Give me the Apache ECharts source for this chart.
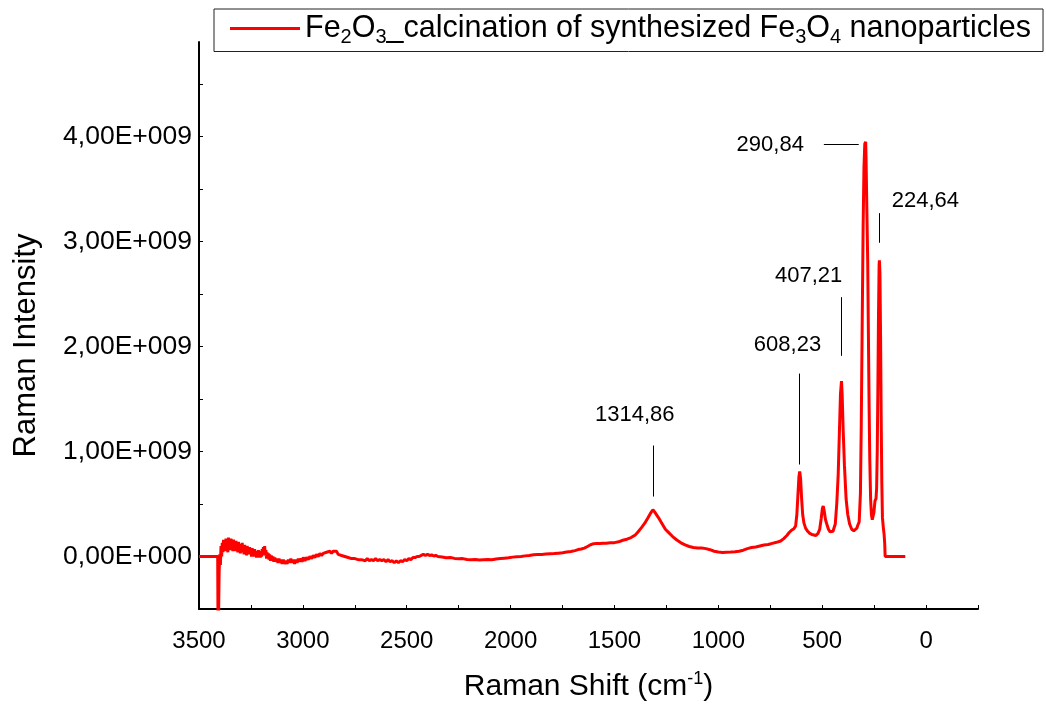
<!DOCTYPE html>
<html>
<head>
<meta charset="utf-8">
<script src="https://cdn.jsdelivr.net/npm/echarts@6/dist/echarts.min.js"></script>
<style>
  html, body { margin: 0; padding: 0; background: #ffffff; overflow: hidden; }
  #chart { width: 1046px; height: 707px; }
</style>
</head>
<body>
<div id="chart"></div>
<script>
// Raman spectrum of Fe2O3 obtained by calcination of Fe3O4 nanoparticles.
// Each pair: [Raman shift in cm-1, intensity in units of 1E+009].
const spectrumE9 = [
  [3500, 0.00], [3460, 0.00], [3410, 0.00], [3408, -0.90], [3405, -0.90], [3403, -0.14],
  [3400, 0.02], [3397, -0.08], [3394, 0.10], [3391, 0.00], [3388, 0.13], [3385, 0.04],
  [3382, 0.16], [3379, 0.06], [3376, 0.15], [3373, 0.05], [3370, 0.17], [3367, 0.07],
  [3364, 0.14], [3361, 0.04], [3358, 0.18], [3355, 0.08], [3352, 0.15], [3349, 0.06],
  [3346, 0.17], [3343, 0.09], [3340, 0.14], [3337, 0.05], [3334, 0.16], [3331, 0.07],
  [3328, 0.13], [3325, 0.05], [3322, 0.15], [3319, 0.06], [3316, 0.12], [3313, 0.04],
  [3310, 0.14], [3307, 0.05], [3304, 0.11], [3301, 0.03], [3298, 0.12], [3295, 0.05],
  [3292, 0.13], [3289, 0.04], [3286, 0.10], [3283, 0.02], [3280, 0.11], [3277, 0.04],
  [3274, 0.09], [3271, 0.01], [3268, 0.10], [3265, 0.03], [3262, 0.08], [3259, 0.02],
  [3256, 0.09], [3253, 0.03], [3250, 0.07], [3247, 0.00], [3244, 0.08], [3241, 0.02],
  [3238, 0.06], [3235, 0.00], [3232, 0.07], [3229, 0.01], [3226, 0.05], [3223, -0.01],
  [3220, 0.05], [3217, -0.01], [3214, 0.06], [3211, 0.00], [3208, 0.05], [3205, -0.01],
  [3202, 0.04], [3199, 0.00], [3196, 0.07], [3193, 0.01], [3190, 0.09], [3187, 0.02],
  [3184, 0.10], [3181, 0.01], [3178, 0.06], [3175, -0.02], [3172, 0.04], [3169, -0.02],
  [3166, 0.03], [3163, -0.03], [3160, 0.02], [3156, -0.04], [3152, 0.01], [3148, -0.04],
  [3144, 0.00], [3140, -0.05], [3135, -0.01], [3130, -0.05], [3125, -0.02], [3120, -0.06],
  [3115, -0.02], [3110, -0.06], [3105, -0.03], [3100, -0.07], [3094, -0.03], [3088, -0.07],
  [3082, -0.04], [3076, -0.07], [3070, -0.03], [3064, -0.06], [3058, -0.02], [3052, -0.06],
  [3046, -0.03], [3040, -0.07], [3034, -0.03], [3028, -0.06], [3022, -0.02], [3016, -0.05],
  [3010, -0.02], [3004, -0.05], [2998, -0.01], [2990, -0.04], [2982, -0.01], [2974, -0.03],
  [2966, 0.00], [2958, -0.02], [2950, 0.01], [2942, -0.01], [2934, 0.02], [2926, 0.00],
  [2918, 0.03], [2910, 0.01], [2902, 0.03], [2894, 0.02], [2886, 0.04], [2878, 0.03],
  [2870, 0.05], [2862, 0.03], [2854, 0.05], [2846, 0.04], [2838, 0.05], [2830, 0.02],
  [2822, 0.03], [2814, 0.01], [2806, 0.02], [2798, 0.00], [2790, 0.01], [2782, -0.01],
  [2774, 0.00], [2766, -0.02], [2758, -0.01], [2750, -0.02], [2742, -0.01], [2734, -0.03],
  [2726, -0.02], [2718, -0.03], [2710, -0.02], [2700, -0.04], [2690, -0.02], [2680, -0.04],
  [2670, -0.03], [2660, -0.04], [2650, -0.02], [2640, -0.04], [2630, -0.03], [2620, -0.04],
  [2610, -0.03], [2600, -0.05], [2590, -0.03], [2580, -0.05], [2570, -0.04], [2560, -0.06],
  [2550, -0.04], [2540, -0.06], [2530, -0.04], [2520, -0.05], [2510, -0.03], [2500, -0.04],
  [2490, -0.02], [2480, -0.03], [2470, -0.01], [2460, -0.01], [2450, 0.00], [2440, 0.00],
  [2430, 0.01], [2420, 0.02], [2410, 0.01], [2400, 0.02], [2390, 0.01], [2380, 0.015],
  [2370, 0.005], [2360, 0.01], [2350, 0.00], [2330, -0.005], [2310, -0.012], [2290, -0.01],
  [2270, -0.018], [2250, -0.022], [2230, -0.02], [2210, -0.028], [2190, -0.031], [2170, -0.028],
  [2150, -0.033], [2130, -0.03], [2110, -0.028], [2090, -0.03], [2070, -0.024], [2050, -0.02],
  [2030, -0.016], [2010, -0.012], [1990, -0.006], [1970, -0.002], [1950, 0.00], [1930, 0.006],
  [1910, 0.01], [1890, 0.016], [1870, 0.019], [1850, 0.02], [1830, 0.024], [1810, 0.026],
  [1790, 0.028], [1770, 0.032], [1750, 0.036], [1730, 0.042], [1710, 0.047], [1690, 0.056],
  [1675, 0.066], [1660, 0.072], [1645, 0.08], [1630, 0.095], [1615, 0.112], [1600, 0.122],
  [1585, 0.125], [1570, 0.124], [1555, 0.126], [1540, 0.127], [1520, 0.13], [1500, 0.132],
  [1480, 0.14], [1460, 0.155], [1440, 0.165], [1420, 0.18], [1400, 0.205], [1390, 0.226],
  [1370, 0.275], [1355, 0.315], [1340, 0.365], [1327, 0.41], [1315, 0.445], [1305, 0.42],
  [1295, 0.39], [1285, 0.36], [1270, 0.31], [1255, 0.26], [1240, 0.23], [1220, 0.19],
  [1200, 0.157], [1180, 0.13], [1160, 0.11], [1140, 0.095], [1120, 0.085], [1100, 0.08],
  [1080, 0.08], [1060, 0.075], [1040, 0.065], [1020, 0.05], [1000, 0.042], [980, 0.038],
  [960, 0.04], [940, 0.042], [920, 0.045], [900, 0.05], [880, 0.06], [860, 0.075],
  [840, 0.085], [820, 0.09], [800, 0.10], [780, 0.11], [760, 0.115], [740, 0.125],
  [720, 0.135], [700, 0.148], [685, 0.17], [670, 0.20], [660, 0.226], [648, 0.25],
  [636, 0.265], [628, 0.29], [622, 0.40], [617, 0.58], [612, 0.76], [608.2, 0.81],
  [604, 0.74], [599, 0.55], [594, 0.40], [588, 0.32], [580, 0.27], [570, 0.24],
  [560, 0.22], [550, 0.21], [540, 0.205], [530, 0.20], [520, 0.22], [512, 0.26],
  [505, 0.36], [499, 0.46], [495, 0.48], [490, 0.43], [484, 0.35], [478, 0.31],
  [470, 0.26], [462, 0.235], [455, 0.23], [448, 0.24], [445, 0.25], [437, 0.31],
  [430, 0.50], [423, 0.78], [417, 1.20], [412, 1.55], [407.2, 1.67], [404, 1.55],
  [399, 1.20], [393, 0.87], [385, 0.55], [377, 0.40], [368, 0.31], [358, 0.26],
  [348, 0.245], [340, 0.25], [333, 0.27], [330, 0.29], [322, 0.33], [316, 0.60],
  [312, 1.25], [308, 2.10], [303, 3.13], [299, 3.70], [295, 3.93], [290.8, 3.95],
  [289, 3.80], [285, 3.30], [281, 2.82], [277, 2.00], [274, 1.40], [271, 0.93],
  [267, 0.55], [263, 0.40], [259, 0.35], [255, 0.34], [251, 0.42], [246, 0.53],
  [241, 0.55], [238, 0.65], [235, 1.00], [232, 1.60], [229, 2.30], [226, 2.78],
  [224.6, 2.82], [222, 2.70], [219, 2.10], [216, 1.30], [213, 0.70], [210, 0.37],
  [206, 0.28], [202, 0.21], [199, 0.12], [197, 0.00], [150, 0.00], [100, 0.00]
];

// Assigned band positions (cm-1) and the text written next to them.
const peakShifts = [1314.86, 608.23, 407.21, 290.84, 224.64];
const peakTexts = ['1314,86', '608,23', '407,21', '290,84', '224,64'];

// Axis ticks.
const xTickStep = 250;
const xLabelStep = 500;
const yTickStep = 0.5e9;

const seriesName = 'Fe2O3_calcination of synthesized Fe3O4 nanoparticles';
const legendRich = 'Fe{sub|2}O{sub|3}_calcination of synthesized Fe{sub|3}O{sub|4} nanoparticles';

const FONT = '"Liberation Sans", Arial, Helvetica, sans-serif';
const E9 = 1e9;

// Where each peak's leader line and text sit, in axis units (intensity in 1E+009).
const annotationLayout = [
  { leader: [[0, 1.057], [0, 0.571]], text: [1402, 1.35] },
  { leader: [[0, 1.742], [0, 0.876]], text: [667, 2.015] },
  { leader: [[0, 2.47], [0, 1.911]], text: [565, 2.674] },
  { leader: [[492, 3.923], [324, 3.923]], text: [750, 3.92], horizontal: true },
  { leader: [[0, 3.27], [0, 2.988]], text: [3.4, 3.386] }
];

const lineData = spectrumE9.map(([x, y]) => [x, y * E9]);

const leaderLines = peakShifts.map((shift, i) => {
  const a = annotationLayout[i];
  const [p1, p2] = a.leader;
  const x1 = a.horizontal ? p1[0] : shift;
  const x2 = a.horizontal ? p2[0] : shift;
  return [{ coord: [x1, p1[1] * E9] }, { coord: [x2, p2[1] * E9] }];
});

const peakLabels = peakShifts.map((shift, i) => ({
  name: peakTexts[i],
  coord: [annotationLayout[i].text[0], annotationLayout[i].text[1] * E9]
}));

function formatIntensity(v) {
  const m = v / E9;
  if (Math.abs(m - Math.round(m)) > 1e-6 || m < 0) return '';
  const mant = m.toFixed(2).replace('.', ',');
  return mant + (m === 0 ? 'E+000' : 'E+009');
}

const chart = echarts.init(document.getElementById('chart'), null, { renderer: 'canvas' });

chart.setOption({
  animation: false,
  backgroundColor: '#ffffff',
  textStyle: { fontFamily: FONT },
  grid: { left: 199, top: 42, width: 779, height: 573, containLabel: false },
  legend: {
    left: 214,
    top: 9,
    padding: [4, 12, 4, 16],
    borderColor: '#222',
    borderWidth: 1,
    icon: 'rect',
    itemWidth: 70,
    itemHeight: 3,
    itemGap: 0,
    data: [seriesName],
    formatter: () => legendRich,
    textStyle: {
      fontFamily: FONT,
      fontSize: 30.5,
      color: '#000',
      padding: [0, 0, 0, 0],
      rich: {
        sub: { fontFamily: FONT, fontSize: 20, color: '#000', padding: [18, 0, 0, 0] }
      }
    }
  },
  xAxis: {
    type: 'value',
    inverse: true,
    min: -250,
    max: 3500,
    interval: xTickStep,
    name: 'Raman Shift (cm{sup|-1})',
    nameLocation: 'middle',
    nameGap: 61,
    nameTextStyle: {
      fontFamily: FONT,
      fontSize: 30,
      color: '#000',
      rich: {
        sup: { fontFamily: FONT, fontSize: 18, color: '#000', padding: [0, 0, 16, 0] }
      }
    },
    axisLine: { show: true, onZero: false, lineStyle: { color: '#000', width: 2 } },
    axisTick: { show: true, inside: true, length: 4, lineStyle: { color: '#000', width: 1 } },
    axisLabel: {
      fontFamily: FONT,
      fontSize: 24,
      color: '#000',
      margin: 20,
      formatter: v => (Math.round(v) % xLabelStep === 0 && v >= 0 ? String(Math.round(v)) : '')
    },
    splitLine: { show: false }
  },
  yAxis: {
    type: 'value',
    min: -0.5e9,
    max: 4.9e9,
    interval: yTickStep,
    name: 'Raman Intensity',
    nameLocation: 'middle',
    nameGap: 157,
    nameRotate: 90,
    nameTextStyle: { fontFamily: FONT, fontSize: 31, color: '#000', padding: [0, 40, 0, 0] },
    axisLine: { show: true, onZero: false, lineStyle: { color: '#000', width: 2 } },
    axisTick: { show: true, inside: true, length: 4, lineStyle: { color: '#000', width: 1 } },
    axisLabel: {
      fontFamily: FONT,
      fontSize: 26.5,
      color: '#000',
      margin: 7,
      showMaxLabel: false,
      formatter: formatIntensity
    },
    splitLine: { show: false }
  },
  series: [{
    name: seriesName,
    type: 'line',
    data: lineData,
    showSymbol: false,
    symbol: 'none',
    clip: true,
    sampling: 'none',
    color: '#ff0000',
    lineStyle: { color: '#ff0000', width: 3 },
    markLine: {
      silent: true,
      symbol: ['none', 'none'],
      label: { show: false },
      lineStyle: { color: '#000', width: 1, type: 'solid' },
      data: leaderLines
    },
    markPoint: {
      silent: true,
      symbol: 'rect',
      symbolSize: 0,
      itemStyle: { color: 'rgba(0,0,0,0)' },
      label: {
        show: true,
        position: 'inside',
        formatter: '{b}',
        fontFamily: FONT,
        fontSize: 22,
        color: '#000'
      },
      data: peakLabels
    }
  }]
});
</script>
</body>
</html>
